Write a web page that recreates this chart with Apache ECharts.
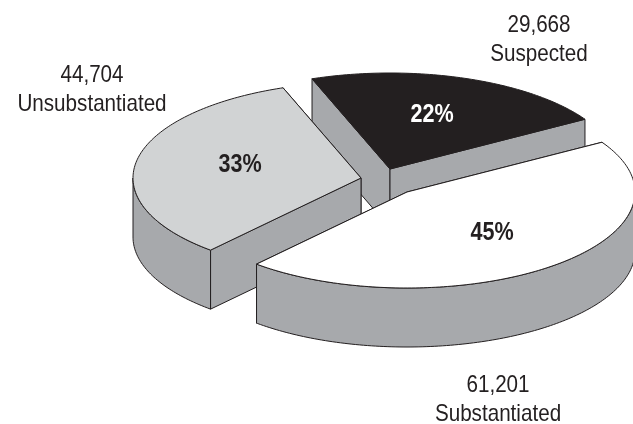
<!DOCTYPE html>
<html>
<head>
<meta charset="utf-8">
<style>
    html, body { margin: 0; padding: 0; background: #fff; }
    #main { width: 633px; height: 424px; }
</style>
</head>
<body>
<div id="main"></div>
<script src="https://cdn.jsdelivr.net/npm/echarts@6/dist/echarts.min.js"></script>
<script>
    // data, clockwise from the back edge of the pie
    var categories = ['Suspected', 'Substantiated', 'Unsubstantiated']
    var caseCounts = [29668, 61201, 44704]

    // layout of each slice, same order as categories
    var sliceCenters = [[390, 169], [407, 192], [361, 178]]
    var valueLabelPos = [[539, 40], [498, 400], [92, 90]]
    var percentLabelPos = [[432, 115], [492, 233], [240, 165]]
    var topColors = ['#231f20', '#ffffff', '#d1d3d4']
    var percentColors = ['#ffffff', '#231f20', '#231f20']
    var drawOrder = [0, 2, 1]

    var radiusX = 228
    var radiusY = 96
    var depth = 59
    var startAngle = -110
    var wallColor = '#a7a9ac'
    var edgeColor = '#231f20'
    var fontName = '"Liberation Sans", Arial, sans-serif'

    var total = caseCounts.reduce(function (a, b) { return a + b }, 0)

    // 开始/结束角度
    function sliceAngles (index) {
        var from = startAngle
        for (var i = 0; i < index; i++) {
            from += caseCounts[i] / total * 360
        }
        return [from, from + caseCounts[index] / total * 360]
    }

    function rimPoint (center, angle, drop) {
        var rad = angle * Math.PI / 180
        return [center[0] + radiusX * Math.cos(rad), center[1] + radiusY * Math.sin(rad) + drop]
    }

    function arcPoints (center, from, to, drop) {
        var pts = []
        for (var a = from; a < to; a += 1) {
            pts.push(rimPoint(center, a, drop))
        }
        pts.push(rimPoint(center, to, drop))
        return pts
    }

    function polygon (points, fill, api, z2) {
        return {
            type: 'polygon',
            z2: z2,
            shape: { points: points.map(function (p) { return api.coord(p) }) },
            style: { fill: fill, stroke: edgeColor, lineWidth: 1, lineJoin: 'round' }
        }
    }

    function radialWall (center, angle, api, z2) {
        var rim = rimPoint(center, angle, 0)
        var points = [center, rim, [rim[0], rim[1] + depth], [center[0], center[1] + depth]]
        return polygon(points, wallColor, api, z2)
    }

    // 横向压缩的文字，没有窄体字库
    function label (pos, text, font, fill, lineHeight, squeeze) {
        return {
            type: 'text',
            z2: 100,
            x: pos[0],
            y: pos[1],
            scaleX: squeeze,
            style: {
                x: 0,
                y: 0,
                text: text,
                font: font,
                lineHeight: lineHeight,
                fill: fill,
                align: 'center',
                verticalAlign: 'middle'
            }
        }
    }

    function renderSlice (params, api) {
        var i = api.value(0)
        var center = sliceCenters[i]
        var angles = sliceAngles(i)
        var base = drawOrder.indexOf(i) * 10
        var children = []
        // 后面的侧壁先画，靠前的盖住它
        var backFirst = angles.slice().sort(function (a, b) {
            return rimPoint(center, a, 0)[1] - rimPoint(center, b, 0)[1]
        })
        children.push(radialWall(center, backFirst[0], api, base + 1))
        children.push(radialWall(center, backFirst[1], api, base + 2))
        // 只有朝前的外壁才看得见
        var wallFrom = Math.max(angles[0], 0)
        var wallTo = Math.min(angles[1], 180)
        if (wallFrom < wallTo) {
            var upper = arcPoints(center, wallFrom, wallTo, 0)
            var lower = arcPoints(center, wallFrom, wallTo, depth).reverse()
            children.push(polygon(upper.concat(lower), wallColor, api, base + 3))
        }
        var top = [center].concat(arcPoints(center, angles[0], angles[1], 0))
        children.push(polygon(top, topColors[i], api, base + 4))
        var percent = Math.round(caseCounts[i] / total * 100) + '%'
        children.push(label(api.coord(percentLabelPos[i]), percent, 'bold 26px ' + fontName, percentColors[i], 26, 0.83))
        var valueText = caseCounts[i].toLocaleString('en-US') + '\n' + categories[i]
        children.push(label(api.coord(valueLabelPos[i]), valueText, '24px ' + fontName, edgeColor, 29, 0.86))
        return { type: 'group', children: children }
    }

    var chart = echarts.init(document.getElementById('main'), null, { renderer: 'canvas' })
    chart.setOption({
        animation: false,
        backgroundColor: '#ffffff',
        grid: { left: 0, right: 0, top: 0, bottom: 0 },
        xAxis: { type: 'value', min: 0, max: 633, show: false },
        yAxis: { type: 'value', min: 0, max: 424, inverse: true, show: false },
        series: [{
            type: 'custom',
            coordinateSystem: 'cartesian2d',
            clip: true,
            encode: { x: 0, y: 0 },
            data: categories.map(function (name, i) { return [i, caseCounts[i], name] }),
            renderItem: renderSlice
        }]
    })
</script>
</body>
</html>
